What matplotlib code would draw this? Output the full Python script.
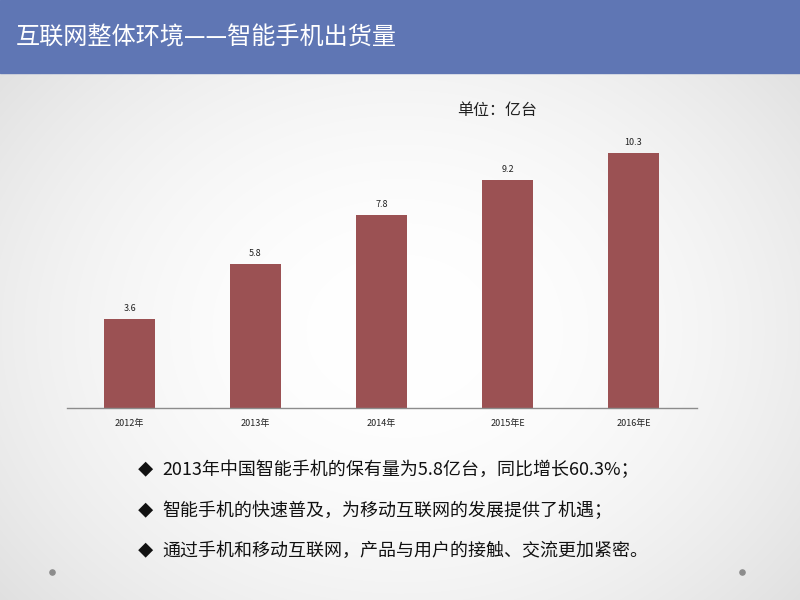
import matplotlib
matplotlib.use("Agg")
import matplotlib.pyplot as plt
import numpy as np

plt.rcParams['font.family'] = ['Noto Sans CJK SC', 'DejaVu Sans']

categories = ["2012年", "2013年", "2014年", "2015年E", "2016年E"]
values = [3.6, 5.8, 7.8, 9.2, 10.3]
value_labels = ["3.6", "5.8", "7.8", "9.2", "10.3"]
title = "互联网整体环境——智能手机出货量"
unit = "单位：亿台"
bullets = [
    "2013年中国智能手机的保有量为5.8亿台，同比增长60.3%；",
    "智能手机的快速普及，为移动互联网的发展提供了机遇；",
    "通过手机和移动互联网，产品与用户的接触、交流更加紧密。",
]

fig = plt.figure(figsize=(8, 6), dpi=100)

# background radial gradient
bg = fig.add_axes([0, 0, 1, 1])
yy, xx = np.mgrid[0:600, 0:800]
r = np.sqrt(((xx - 400) / 520.0) ** 2 + ((yy - 330) / 420.0) ** 2)
shade = 1.0 - 0.12 * np.clip(r, 0, 1.2) ** 2
bg.imshow(np.dstack([shade, shade, shade]), extent=[0, 800, 600, 0], aspect='auto')
bg.set_xlim(0, 800)
bg.set_ylim(600, 0)
bg.axis('off')

# banner
bg.add_patch(plt.Rectangle((0, 0), 800, 73, color='#5F76B4', zorder=2))
bg.text(16, 38, title, color='white', fontsize=17.4, va='center', ha='left', zorder=3)

# unit
bg.text(457, 111, unit, fontsize=11.5, va='center', ha='left', color='#222222')

# bullets
for i, b in enumerate(bullets):
    y = 470 + i * 40.5
    bg.text(138, y, "◆", fontsize=11, va='center', ha='left', color='#111111')
    bg.text(162, y, b, fontsize=12.95, va='center', ha='left', color='#111111')

# dots
bg.scatter([52, 742], [572, 572], s=14, color='#8C8C8C', zorder=3)

# chart
ax = fig.add_axes([66.5 / 800, 1 - 408 / 600, 630 / 800, (408 - 135.75) / 600])
ax.patch.set_alpha(0)
x = np.arange(len(categories))
bars = ax.bar(x, values, width=0.405, color='#9B5153')
for xi, v, lab in zip(x, values, value_labels):
    ax.text(xi, v + 0.25, lab, ha='center', va='bottom', fontsize=6.5, color='#222222')
ax.set_xlim(-0.5, len(categories) - 0.5)
ax.set_ylim(0, 11)
ax.set_xticks(x)
ax.set_xticklabels(categories, fontsize=6.5, color='#222222')
ax.tick_params(axis='x', length=0, pad=8)
ax.set_yticks([])
for s in ['top', 'right', 'left']:
    ax.spines[s].set_visible(False)
ax.spines['bottom'].set_color('#8C8C8C')
ax.spines['bottom'].set_linewidth(1.0)

fig.savefig("out.png", dpi=100)
